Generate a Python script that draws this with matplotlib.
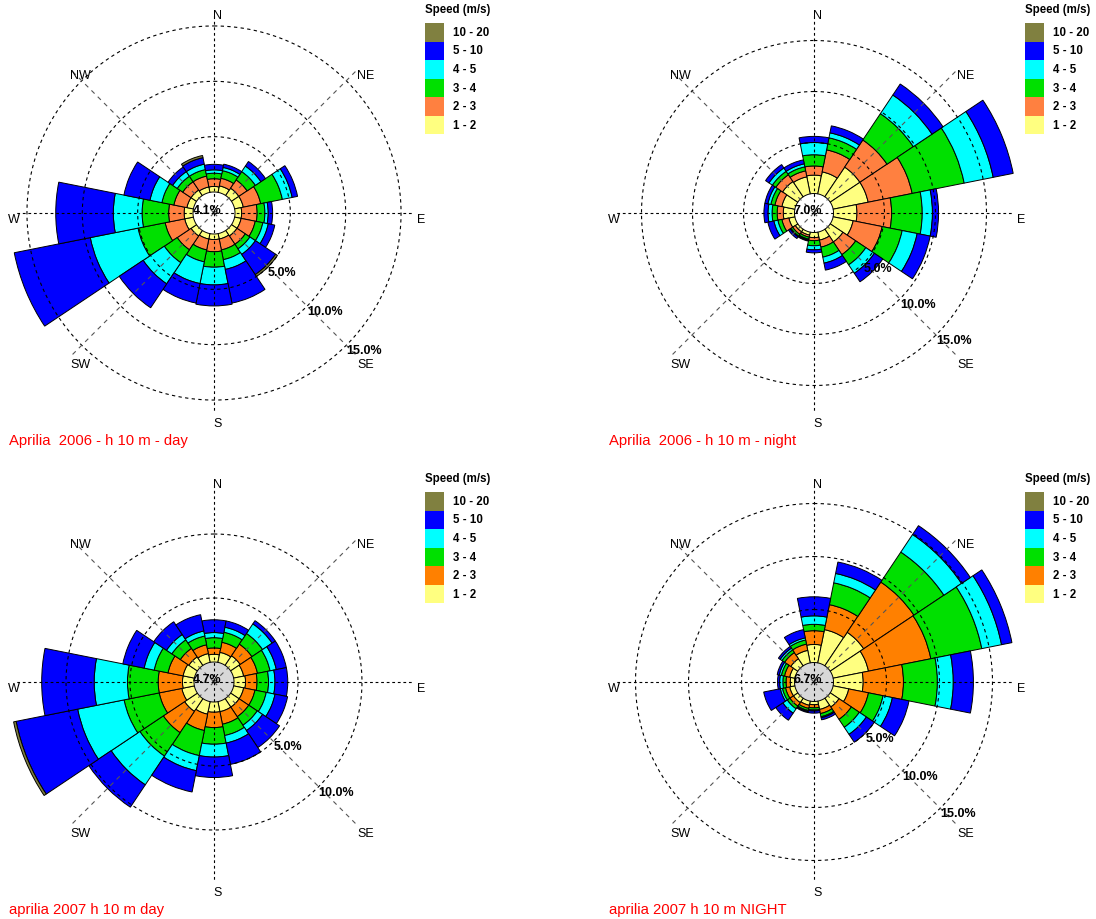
import numpy as np
import matplotlib.pyplot as plt
from matplotlib.patches import Patch

plt.rcParams['font.family'] = ['Liberation Sans', 'DejaVu Sans']

W_PX, H_PX = 1096, 919

directions = ['N', 'NNE', 'NE', 'ENE', 'E', 'ESE', 'SE', 'SSE',
              'S', 'SSW', 'SW', 'WSW', 'W', 'WNW', 'NW', 'NNW']
speed_labels = ['1 - 2', '2 - 3', '3 - 4', '4 - 5', '5 - 10', '10 - 20']
compass = ['N', 'NE', 'E', 'SE', 'S', 'SW', 'W', 'NW']

# frequencies (%) per direction (N .. NNW, clockwise), one list per speed class

# Aprilia 2006 - h 10 m - day
day06_s1 = [0.5, 0.6, 0.8, 0.8, 0.6, 0.6, 0.6, 0.5, 0.5, 0.5, 0.6, 0.8, 0.8, 0.6, 0.6, 0.5]
day06_s2 = [0.7, 0.7, 0.9, 1.6, 1.4, 1.3, 0.9, 1.0, 1.1, 1.0, 1.5, 1.8, 1.4, 1.2, 0.9, 1.0]
day06_s3 = [0.5, 0.7, 0.9, 2.0, 0.7, 0.7, 0.5, 0.9, 1.4, 1.1, 1.4, 2.5, 2.4, 1.1, 0.6, 0.6]
day06_s4 = [0.3, 0.3, 0.6, 0.9, 0.3, 0.5, 0.6, 0.9, 1.6, 2.0, 2.3, 4.4, 2.6, 1.1, 0.5, 0.5]
day06_s5 = [0.5, 0.3, 0.5, 0.5, 0.4, 0.6, 2.2, 3.1, 1.9, 1.8, 2.6, 7.0, 5.2, 2.4, 0.5, 0.6]
day06_s6 = [0.0, 0.0, 0.0, 0.0, 0.0, 0.0, 0.2, 0.0, 0.0, 0.0, 0.0, 0.0, 0.0, 0.0, 0.0, 0.2]

# Aprilia 2006 - h 10 m - night
night06_s1 = [1.8, 2.2, 3.5, 3.5, 2.3, 2.0, 1.5, 0.8, 0.5, 0.3, 0.3, 0.6, 1.1, 1.3, 1.8, 1.7]
night06_s2 = [0.9, 2.2, 3.2, 4.4, 3.4, 2.9, 1.5, 0.7, 0.3, 0.2, 0.3, 0.7, 0.6, 0.7, 0.8, 0.6]
night06_s3 = [1.1, 1.2, 3.1, 5.2, 3.0, 2.0, 1.2, 1.0, 0.5, 0.2, 0.2, 0.4, 0.5, 0.4, 0.4, 0.4]
night06_s4 = [1.2, 0.5, 2.2, 2.9, 1.0, 1.5, 1.0, 0.6, 0.4, 0.1, 0.1, 0.4, 0.4, 0.3, 0.4, 0.3]
night06_s5 = [0.6, 0.7, 1.3, 2.0, 0.6, 1.3, 1.0, 0.7, 0.3, 0.1, 0.2, 0.6, 0.4, 0.3, 0.4, 0.4]
night06_s6 = [0.0] * 16

# aprilia 2007 h 10 m day
day07_s1 = [0.6, 0.8, 0.9, 0.8, 0.9, 0.8, 0.8, 0.8, 0.8, 1.0, 1.2, 1.0, 0.9, 0.9, 0.8, 0.7]
day07_s2 = [0.5, 0.8, 1.1, 1.1, 0.9, 0.9, 0.9, 1.0, 1.2, 1.3, 2.0, 1.8, 1.9, 1.2, 0.8, 0.7]
day07_s3 = [0.8, 0.8, 1.0, 1.0, 0.9, 0.9, 0.8, 0.9, 1.3, 2.0, 2.2, 2.8, 2.4, 1.1, 0.8, 0.7]
day07_s4 = [0.4, 0.4, 0.9, 0.5, 0.5, 0.7, 0.5, 0.6, 1.0, 1.2, 2.7, 3.7, 2.6, 0.8, 0.5, 0.4]
day07_s5 = [1.0, 0.5, 0.3, 0.8, 1.0, 1.0, 1.6, 1.7, 1.6, 1.7, 2.1, 4.9, 4.1, 1.7, 1.2, 1.3]
day07_s6 = [0.0, 0.0, 0.0, 0.0, 0.0, 0.0, 0.0, 0.0, 0.0, 0.0, 0.0, 0.2, 0.0, 0.0, 0.0, 0.0]

# aprilia 2007 h 10 m NIGHT
night07_s1 = [1.7, 3.2, 3.8, 3.4, 2.8, 1.5, 1.0, 0.8, 0.3, 0.4, 0.5, 0.5, 0.4, 0.5, 0.8, 1.2]
night07_s2 = [1.3, 2.4, 5.7, 6.0, 3.8, 1.9, 1.4, 0.4, 0.3, 0.3, 0.4, 0.4, 0.4, 0.5, 0.7, 0.6]
night07_s3 = [0.6, 2.1, 3.4, 4.9, 3.2, 1.4, 0.9, 0.3, 0.2, 0.2, 0.3, 0.3, 0.3, 0.3, 0.3, 0.4]
night07_s4 = [0.8, 0.9, 2.0, 1.9, 1.5, 0.9, 0.8, 0.1, 0.1, 0.1, 0.5, 0.2, 0.3, 0.2, 0.2, 0.2]
night07_s5 = [1.8, 1.1, 1.0, 1.0, 1.9, 1.6, 0.9, 0.2, 0.2, 0.1, 0.8, 1.6, 0.2, 0.2, 0.2, 0.8]
night07_s6 = [0.0] * 16

calm_values = [4.1, 7.0, 4.7, 6.7]
titles = ['Aprilia  2006 - h 10 m - day', 'Aprilia  2006 - h 10 m - night',
          'aprilia 2007 h 10 m day', 'aprilia 2007 h 10 m NIGHT']

yellow, green, cyan, blue, olive = '#FFFF80', '#00E000', '#00FFFF', '#0000FF', '#808040'
colors_2006 = [yellow, '#FF8040', green, cyan, blue, olive]
colors_2007 = [yellow, '#FF8000', green, cyan, blue, olive]

# centre (px), calm-hole radius (px), px per percent, rings, colours, calm fill
panels = [
    dict(cx=214, cy=213, hole=21, scale=11.07, rings=[5, 10, 15],
         colors=colors_2006, calm_color='white',
         freqs=[day06_s1, day06_s2, day06_s3, day06_s4, day06_s5, day06_s6]),
    dict(cx=814, cy=213, hole=19.5, scale=10.2, rings=[5, 10, 15],
         colors=colors_2006, calm_color='white',
         freqs=[night06_s1, night06_s2, night06_s3, night06_s4, night06_s5, night06_s6]),
    dict(cx=214, cy=682, hole=20, scale=12.8, rings=[5, 10],
         colors=colors_2007, calm_color='#D8D8D8',
         freqs=[day07_s1, day07_s2, day07_s3, day07_s4, day07_s5, day07_s6]),
    dict(cx=814, cy=682, hole=19.5, scale=10.6, rings=[5, 10, 15],
         colors=colors_2007, calm_color='#D8D8D8',
         freqs=[night07_s1, night07_s2, night07_s3, night07_s4, night07_s5, night07_s6]),
]

# label offsets from the rose centre, in pixels (y downwards)
label_offsets = {'N': (4, -197), 'NE': (152, -137), 'E': (207, 7), 'SE': (152, 152),
                 'S': (4, 211), 'SW': (-134, 152), 'W': (-200, 7), 'NW': (-134, -137)}

fig = plt.figure(figsize=(W_PX / 100, H_PX / 100), dpi=100)


def fx(x):
    return x / W_PX


def fy(y):
    return 1 - y / H_PX


def draw_rose(p, calm, title):
    cx, cy, hole, scale = p['cx'], p['cy'], p['hole'], p['scale']
    reach = 200
    box = 212
    ax = fig.add_axes([fx(cx - box), fy(cy + box), 2 * box / W_PX, 2 * box / H_PX],
                      projection='polar')
    ax.set_theta_zero_location('N')
    ax.set_theta_direction(-1)
    r0 = hole / scale
    ax.set_ylim(-r0, (box - hole) / scale)
    ax.set_axis_off()

    # calm circle
    ax.bar(0, r0, width=2 * np.pi, bottom=-r0, color=p['calm_color'], linewidth=0, zorder=1)

    theta = np.deg2rad(np.arange(16) * 22.5)
    width = np.deg2rad(22.5)
    bottom = np.zeros(16)
    for vals, col in zip(p['freqs'], p['colors']):
        vals = np.asarray(vals, dtype=float)
        m = vals > 0
        ax.bar(theta[m], vals[m], width=width, bottom=bottom[m], color=col,
               edgecolor='black', linewidth=0.7, zorder=2)
        bottom += vals

    tt = np.linspace(0, 2 * np.pi, 400)
    for r in p['rings']:
        ax.plot(tt, np.full_like(tt, r), color='black', lw=0.8, ls=(0, (3, 3)), zorder=3)
        ax.text(np.deg2rad(135), r, f'{r:.1f}%', ha='left', va='top', fontsize=9,
                fontweight='bold', zorder=4)
    rmax = (reach - hole) / scale
    for k in range(8):
        th = np.deg2rad(45 * k)
        if k % 2 == 0:
            ax.plot([th, th], [-r0, rmax], color='black', lw=0.8, ls=(0, (2.5, 2.5)), zorder=3)
        else:
            ax.plot([th, th], [-r0, rmax], color='#555555', lw=0.8, ls=(0, (4, 4)), zorder=3)

    for name in compass:
        dx, dy = label_offsets[name]
        fig.text(fx(cx + dx), fy(cy + dy), name, ha='center', va='center', fontsize=9)

    fig.text(fx(cx - 6.5), fy(cy - 2), f'{calm:.1f}%', ha='center', va='center',
             fontsize=9, fontweight='bold', zorder=5)

    fig.text(fx(cx - 205), fy(cy + 232), title, color='red', fontsize=10.7, va='baseline')

    handles = [Patch(facecolor=c, edgecolor='none') for c in p['colors']][::-1]
    leg = ax.legend(handles, speed_labels[::-1], title='Speed (m/s)', loc='upper left',
                    bbox_to_anchor=(fx(cx + 211), fy(cy - 209)), bbox_transform=fig.transFigure,
                    frameon=False, borderpad=0, borderaxespad=0, labelspacing=0,
                    handlelength=1.65, handleheight=2.1, handletextpad=0.75,
                    prop={'size': 8.3, 'weight': 'bold'},
                    title_fontproperties={'size': 8.3, 'weight': 'bold'}, alignment='left')
    # a little air between the legend title and the colour boxes
    leg._legend_box.sep = 5
    return ax


for p, calm, title in zip(panels, calm_values, titles):
    draw_rose(p, calm, title)

fig.savefig('out.png', dpi=100)
